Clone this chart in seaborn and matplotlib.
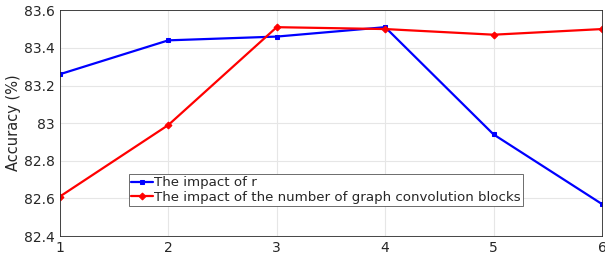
import pandas as pd
import matplotlib.pyplot as plt
import matplotlib.ticker as mticker
import seaborn as sns

x_vals = [1, 2, 3, 4, 5, 6]
impact_r = [83.26, 83.44, 83.46, 83.51, 82.94, 82.57]
impact_blocks = [82.61, 82.99, 83.51, 83.50, 83.47, 83.50]
labels = ["The impact of r", "The impact of the number of graph convolution blocks"]

df = pd.concat([
    pd.DataFrame({"x": x_vals, "acc": impact_r, "series": labels[0]}),
    pd.DataFrame({"x": x_vals, "acc": impact_blocks, "series": labels[1]}),
])

sns.set_style("whitegrid")
plt.rcParams["font.family"] = ["DejaVu Sans"]

fig, ax = plt.subplots(figsize=(6.05, 2.56), dpi=100)
fig.subplots_adjust(left=0.099, right=0.995, top=0.96, bottom=0.078)

sns.lineplot(data=df, x="x", y="acc", hue="series", style="series",
             palette=["#0000ff", "#ff0000"], markers=["s", "D"], dashes=False,
             markersize=3.5, linewidth=1.6, ax=ax)
for line in ax.lines:
    line.set_markeredgecolor(line.get_color())

ax.set_xlim(1, 6)
ax.set_ylim(82.4, 83.6)
ax.set_xticks(x_vals)
ax.set_yticks([82.4, 82.6, 82.8, 83.0, 83.2, 83.4, 83.6])
ax.yaxis.set_major_formatter(mticker.FuncFormatter(lambda v, p: f"{v:g}"))
ax.set_xlabel("")
ax.set_ylabel("Accuracy (%)", fontsize=10.5, color="#262626", labelpad=2)
ax.tick_params(axis="both", labelsize=10, direction="in", length=3, colors="#262626")
ax.grid(True, color="#e6e6e6", linewidth=0.8)
for s in ax.spines.values():
    s.set_visible(True)
    s.set_color("#262626")
    s.set_linewidth(0.6)

leg = ax.legend(loc="lower left", bbox_to_anchor=(0.128, 0.135), fontsize=9.6,
                frameon=True, fancybox=False, borderpad=0.15, handlelength=1.6,
                handletextpad=0.1, labelspacing=0.1, borderaxespad=0)
for h in leg.get_lines():
    h.set_markeredgecolor(h.get_color())
leg.get_frame().set_edgecolor("#555555")
leg.get_frame().set_linewidth(0.6)
leg.get_frame().set_alpha(1)

plt.savefig("out.png", dpi=100)
